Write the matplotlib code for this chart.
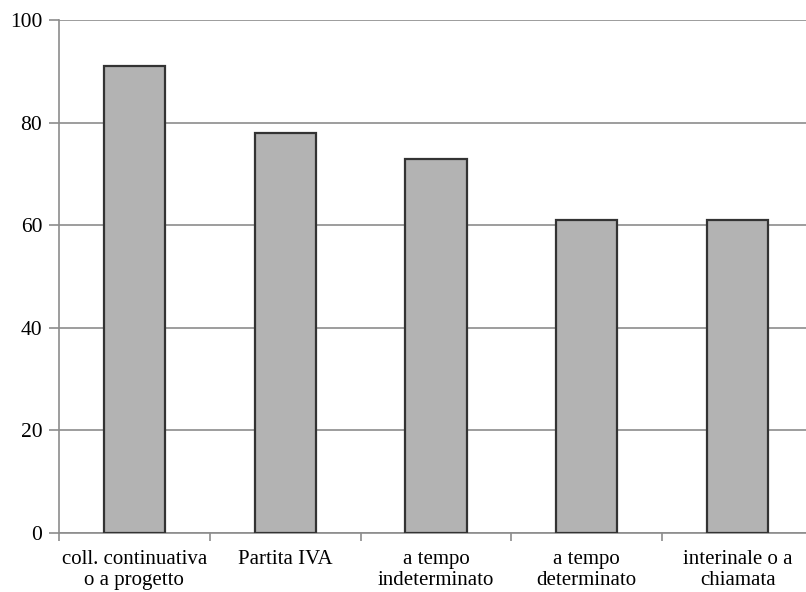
import matplotlib.pyplot as plt

categories = ["coll. continuativa\no a progetto", "Partita IVA", "a tempo\nindeterminato",
              "a tempo\ndeterminato", "interinale o a\nchiamata"]
values = [91, 78, 73, 61, 61]
y_ticks = [0, 20, 40, 60, 80, 100]

plt.rcParams['font.family'] = ['Liberation Serif', 'DejaVu Serif']

fig = plt.figure(figsize=(8.06, 5.92), dpi=100)
# axes runs a bit past the right edge, like the cropped original
ax = fig.add_axes([59 / 806, 1 - 533 / 592, 754 / 806, 513 / 592])

pos = list(range(len(categories)))
ax.bar(pos, values, width=0.405, color="#b3b3b3", edgecolor="#333333", linewidth=1.6, zorder=3)

ax.set_xlim(-0.5, len(categories) - 0.5)
ax.set_ylim(0, 100)
ax.set_yticks(y_ticks)
ax.set_yticklabels([str(v) for v in y_ticks], fontsize=15.5)
ax.yaxis.grid(True, color="#8c8c8c", linewidth=1.2, zorder=0)

# category labels in the middle, tick marks on the boundaries
ax.set_xticks(pos)
ax.set_xticklabels(categories, fontsize=15, linespacing=1.18)
ax.tick_params(axis="x", which="major", length=0, pad=12)
ax.set_xticks([p - 0.5 for p in pos] + [len(pos) - 0.5], minor=True)
ax.tick_params(axis="x", which="minor", length=6, color="#8c8c8c", width=1.2)
ax.tick_params(axis="y", length=7, color="#8c8c8c", width=1.2, pad=5)

for side in ["top", "right"]:
    ax.spines[side].set_visible(False)
for side in ["left", "bottom"]:
    ax.spines[side].set_color("#8c8c8c")
    ax.spines[side].set_linewidth(1.2)

plt.savefig("out.png", dpi=100)
